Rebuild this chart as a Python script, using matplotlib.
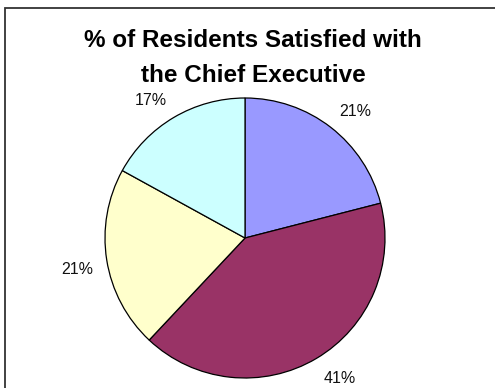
import numpy as np
import matplotlib.pyplot as plt
from matplotlib.patches import Rectangle

# satisfaction split, drawn clockwise from 12 o'clock
shares = [21, 41, 21, 17]
colors = ["#9999FF", "#993366", "#FFFFCC", "#CCFFFF"]
title_lines = ["% of Residents Satisfied with", "the Chief Executive"]

plt.rcParams["font.family"] = ["Liberation Sans", "DejaVu Sans"]

W, H = 495, 388
fig = plt.figure(figsize=(W / 100, H / 100), dpi=100)

# pie centred at (245, 238) px with a 140 px radius
cx, cy, r = 245, 238, 140
ax = fig.add_axes([(cx - r) / W, (H - cy - r) / H, 2 * r / W, 2 * r / H])
wedges, _ = ax.pie(
    shares,
    colors=colors,
    startangle=90,
    counterclock=False,
    wedgeprops=dict(edgecolor="black", linewidth=0.9),
)
ax.set_xlim(-1, 1)
ax.set_ylim(-1, 1)
ax.set_aspect("equal")

# percentage labels sit just outside the rim, corner nearest the pie
total = sum(shares)
for w, v in zip(wedges, shares):
    mid = np.deg2rad((w.theta1 + w.theta2) / 2)
    x, y = 1.1 * np.cos(mid), 1.1 * np.sin(mid)
    ax.text(x, y, f"{v / total * 100:.0f}%", fontsize=11.5, color="#111111",
            ha="left" if x > 0 else "right",
            va="baseline" if y > 0 else "top")

for line, ypx in zip(title_lines, [47, 82]):
    fig.text(253 / W, 1 - ypx / H, line, ha="center", va="baseline",
             fontsize=17.5, fontweight="bold")

# chart frame (right and bottom edges fall outside the image)
fig.patches.append(Rectangle((5 / W, -0.1), 1.2, 1 - 8 / H + 0.1,
                             transform=fig.transFigure, fill=False,
                             edgecolor="#333333", linewidth=1.3))

fig.savefig("out.png", dpi=100)
